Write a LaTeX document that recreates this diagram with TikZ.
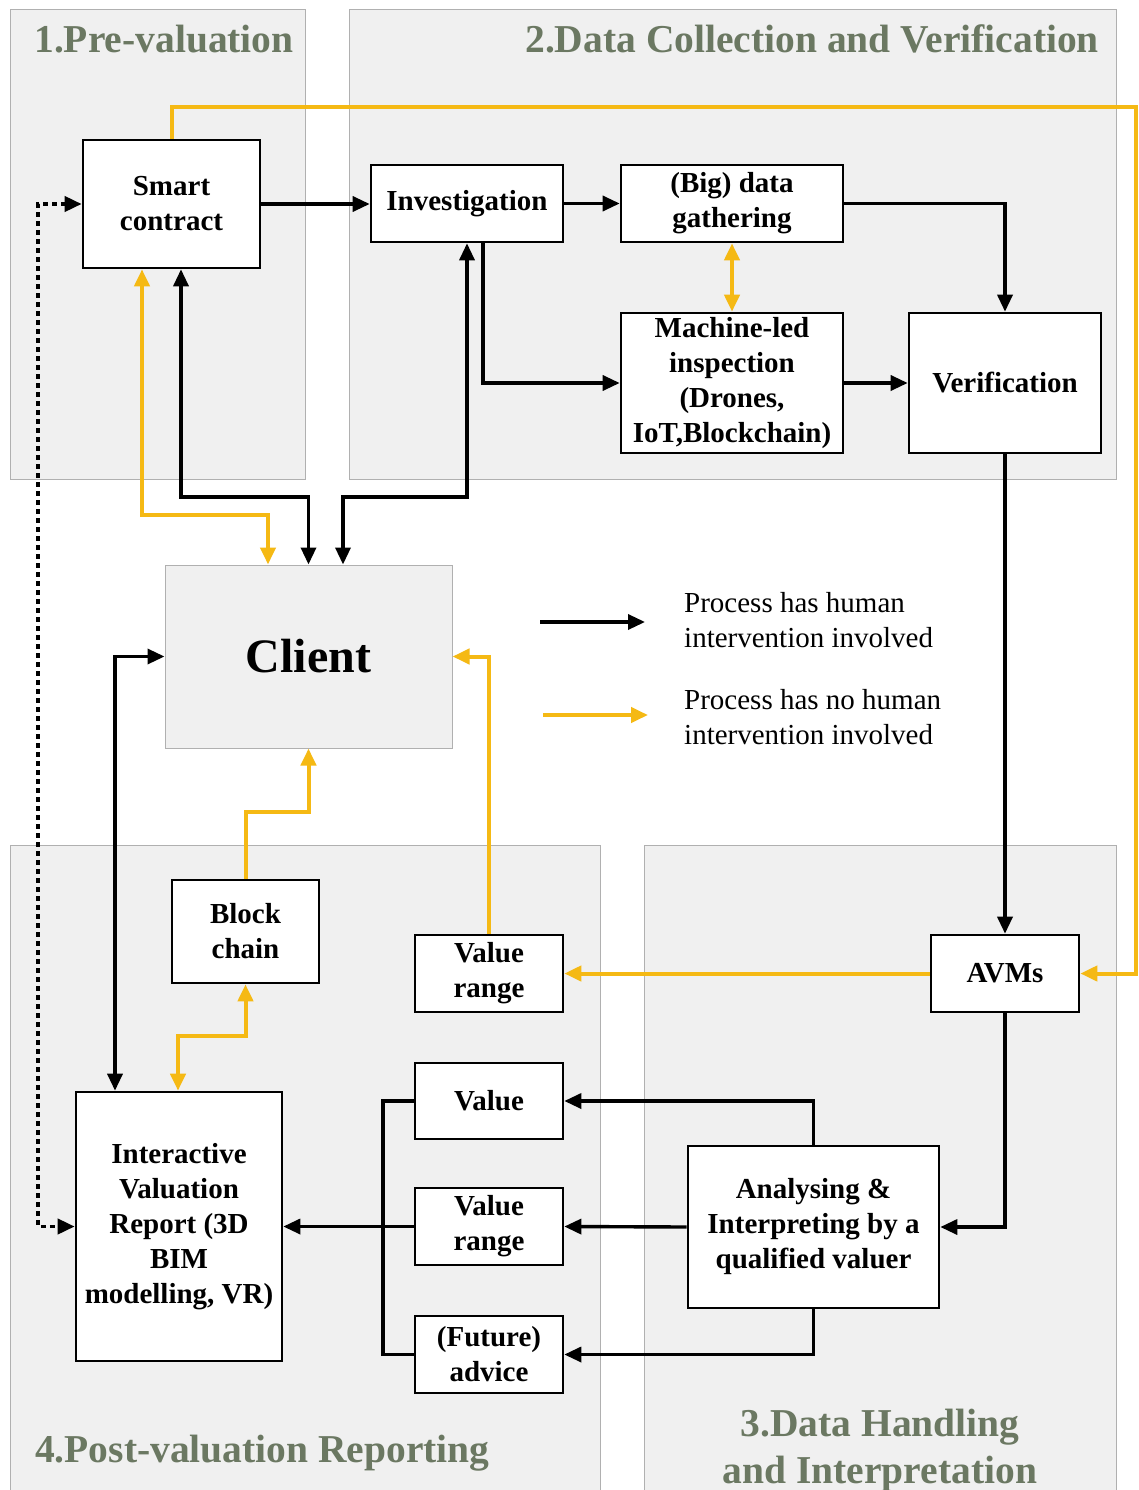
\documentclass[tikz,border=0pt]{standalone}
\usepackage{fontspec}
\setmainfont{Liberation Serif}
\usetikzlibrary{arrows.meta}
\definecolor{panelfill}{HTML}{F0F0F0}
\definecolor{panelline}{HTML}{B0B0B0}
\definecolor{titlecol}{HTML}{6B7862}
\definecolor{autoline}{HTML}{F5B914}

\begin{document}
\begin{tikzpicture}[x=1pt,y=-1pt,
  >={Triangle[length=17pt,width=15pt]},
  panel/.style={draw=panelline, fill=panelfill, line width=1pt},
  phasetitle/.style={text=titlecol, font=\fontsize{39.5}{47}\selectfont\bfseries, inner sep=0pt, align=center},
  procbox/.style={draw, line width=2.6pt, fill=white, font=\fontsize{29}{35}\selectfont\bfseries, align=center, inner sep=0pt},
  human/.style={draw=black, line width=3.4pt},
  machine/.style={draw=autoline, line width=4pt},
  legendtext/.style={font=\fontsize{29}{35}\selectfont, align=left, anchor=west, inner sep=0pt}
]
\useasboundingbox (0,0) rectangle (1139,1490);
\fill[white] (0,0) rectangle (1139,1490);

% phase panels
\draw[panel] (10,10) rectangle (305,479);
\draw[panel] (349,10) rectangle (1116,479);
\draw[panel] (10,845) rectangle (600,1500);
\draw[panel] (644,845) rectangle (1116,1500);

% phase titles
\node[phasetitle, anchor=base] (t1) at (164,53) {1.Pre-valuation};
\node[phasetitle, anchor=base east] (t2) at (1099,53) {2.Data Collection and Verification};
\node[phasetitle, anchor=base west] (t4) at (35,1462) {4.Post-valuation Reporting};
\node[phasetitle] (t3) at (880,1450) {3.Data Handling\\and Interpretation};

% process boxes
\node[procbox, minimum width=177, minimum height=128] (smart) at (171.5,204) {Smart\\contract};
\node[procbox, minimum width=192, minimum height=77] (invest) at (467,203.5) {Investigation};
\node[procbox, minimum width=222, minimum height=77] (bigdata) at (732,203.5) {(Big) data\\gathering};
\node[procbox, minimum width=222, minimum height=140] (machine) at (732,383) {Machine-led\\inspection\\(Drones,\\IoT,Blockchain)};
\node[procbox, minimum width=192, minimum height=140] (verif) at (1005,383) {Verification};
\node[draw=panelline, fill=panelfill, line width=1pt, minimum width=287, minimum height=183,
      font=\fontsize{48}{58}\selectfont\bfseries, inner sep=0pt] (client) at (308.5,656.5) {Client};
\node[procbox, minimum width=147, minimum height=103] (block) at (245.5,931.5) {Block\\chain};
\node[procbox, minimum width=148, minimum height=77] (vrange1) at (489,973.5) {Value\\range};
\node[procbox, minimum width=148, minimum height=77] (avms) at (1005,973.5) {AVMs};
\node[procbox, minimum width=148, minimum height=76] (value) at (489,1101) {Value};
\node[procbox, minimum width=148, minimum height=77] (vrange2) at (489,1226.5) {Value\\range};
\node[procbox, minimum width=148, minimum height=77] (advice) at (489,1354.5) {(Future)\\advice};
\node[procbox, minimum width=251, minimum height=162] (analys) at (813.5,1227) {Analysing \&\\Interpreting by a\\qualified valuer};
\node[procbox, minimum width=206, minimum height=269] (report) at (179,1226.5) {Interactive\\Valuation\\Report (3D\\BIM\\modelling, VR)};

% automated flows
\draw[machine,->] (smart.north) |- (1136,107) |- (avms.east);
\draw[machine,<->] (bigdata.south) -- (machine.north);
\draw[machine,<->] (142,0 |- smart.south) |- (268,515) -- (268,0 |- client.north);
\draw[machine,->] (block.north) |- (client.south |- 0,812) -- (client.south);
\draw[machine,<->] (178,0 |- report.north) |- (block.south |- 0,1036) -- (block.south);
\draw[machine,->] (avms.west) -- (vrange1.east);
\draw[machine,->] (vrange1.north) |- (client.east);

% flows with human intervention
\draw[human,->] (smart.east) -- (smart.east -| invest.west);
\draw[human,->] (invest.east) -- (invest.east -| bigdata.west);
\draw[human,->] (bigdata.east) -| (verif.north);
\draw[human,->] ([xshift=16]invest.south) |- (machine.west);
\draw[human,->] (machine.east) -- (machine.east -| verif.west);
\draw[human,->] (verif.south) -- (avms.north);
\draw[human,<->] (invest.south) |- (343,497) -- (343,0 |- client.north);
\draw[human,<->] (181,0 |- smart.south) |- (client.north |- 0,497) -- (client.north);
\draw[human,<->] (client.west) -| (115,0 |- report.north);
\draw[human,->] (avms.south) |- (analys.east);
\draw[human,->] (analys.north) |- (value.east);
\draw[human,->] (analys.west) -- (vrange2.east);
\draw[human,->] (analys.south) |- (advice.east);
\draw[human] (value.west) -| (383,0 |- advice.west) -- (advice.west);
\draw[human,->] (vrange2.west) -- (report.east);

% contract link to the report
\draw[human, line width=3.8pt, dash pattern=on 5pt off 4pt, <->] (smart.west) -| (38,0 |- report.west) -- (report.west);

% legend
\coordinate (lh1) at (540,622);
\coordinate (lh2) at (645,622);
\coordinate (lm1) at (543,715);
\coordinate (lm2) at (648,715);
\draw[human,->] (lh1) -- (lh2);
\draw[machine,->] (lm1) -- (lm2);
\node[legendtext] (lht) at (684,620.5) {Process has human\\intervention involved};
\node[legendtext] (lmt) at (684,717.5) {Process has no human\\intervention involved};
\end{tikzpicture}
\end{document}
